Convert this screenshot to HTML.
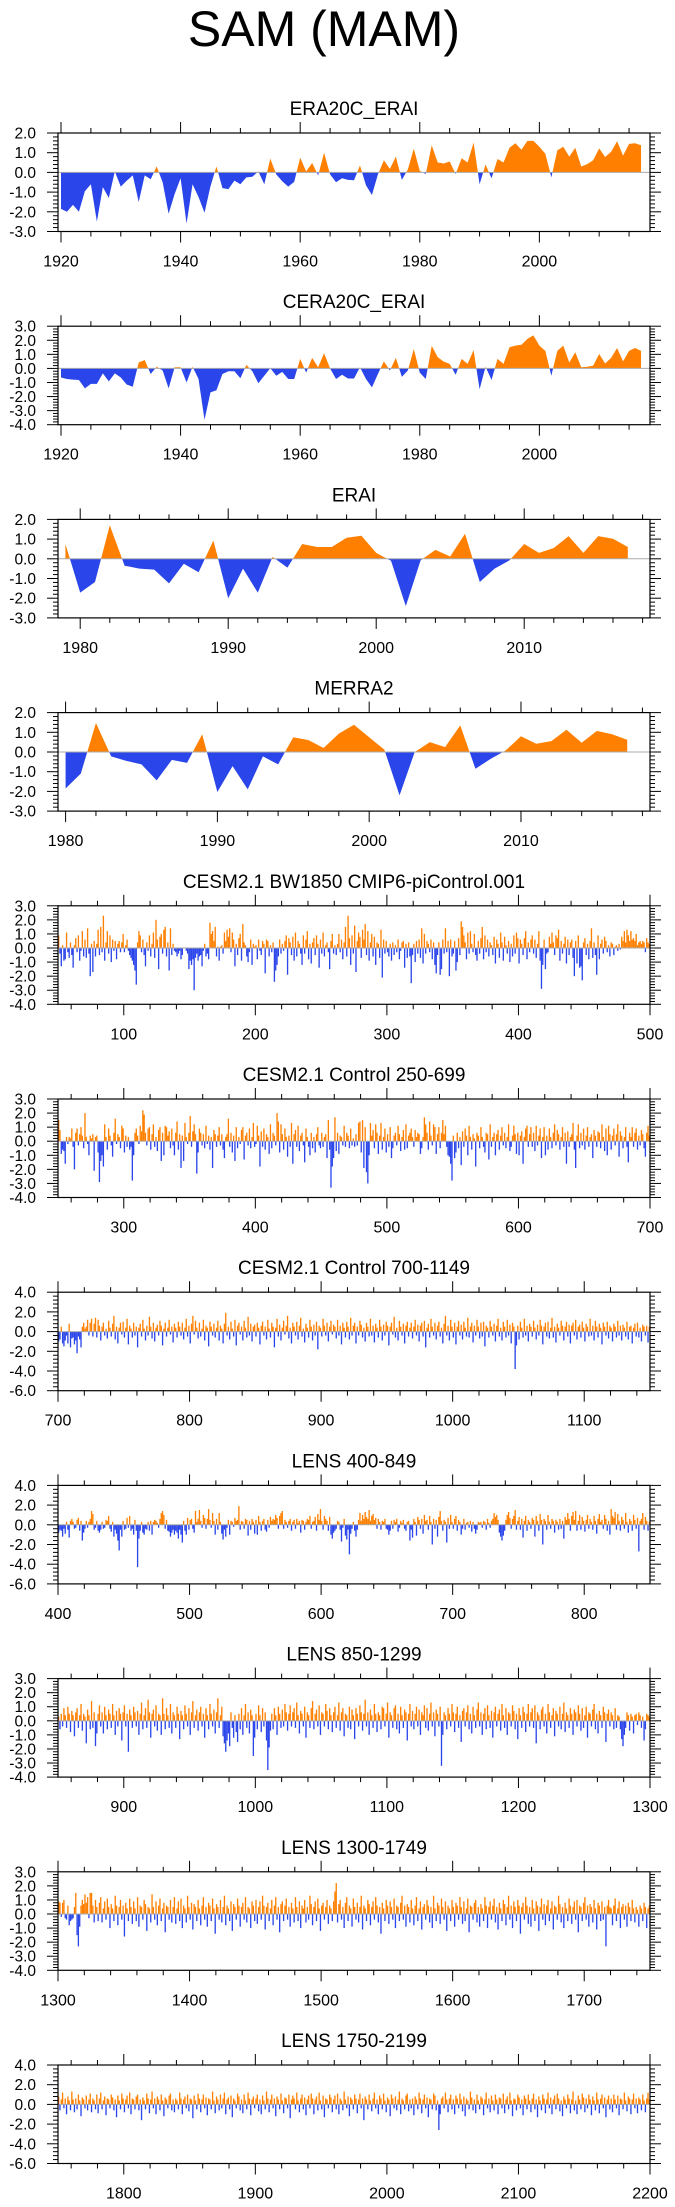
<!DOCTYPE html>
<html><head><meta charset="utf-8"><title>SAM (MAM)</title>
<style>
html,body{margin:0;padding:0;background:#fff;}
svg{display:block;}
text{font-family:"Liberation Sans",Arial,sans-serif;fill:#000;}
</style></head>
<body>
<svg id="chart" width="675" height="2207" viewBox="0 0 675 2207" xmlns="http://www.w3.org/2000/svg">
<rect x="0" y="0" width="675" height="2207" fill="#fff"/>
<text x="324" y="46" font-size="50" text-anchor="middle">SAM (MAM)</text>
</svg>
<script>
// ---- data ----
const p1Start = 1920;
const p1Values = [-1.85,-2.0,-1.65,-2.0,-0.95,-0.6,-2.5,-0.75,-1.3,0.05,-0.72,-0.42,-0.15,-1.5,-0.15,-0.35,0.3,-0.5,-2.1,-1.1,-0.3,-2.6,-0.6,-1.25,-2.05,-0.7,0.3,-0.8,-0.85,-0.42,-0.6,-0.25,-0.22,0.05,-0.6,0.7,-0.1,-0.45,-0.72,-0.48,0.75,0.05,0.48,-0.15,1.0,-0.1,-0.5,-0.3,-0.38,-0.4,0.35,-0.65,-1.15,-0.1,0.62,0.18,0.8,-0.38,0.15,1.2,0.08,-0.08,1.38,0.5,0.45,0.55,-0.08,0.72,0.5,1.52,-0.6,0.4,-0.3,0.68,0.5,1.25,1.48,1.15,1.6,1.6,1.3,0.95,-0.25,1.12,1.3,0.8,1.25,0.3,0.42,0.62,1.22,0.78,1.05,1.58,0.85,1.45,1.48,1.38];
const p2Start = 1920;
const p2Values = [-0.65,-0.75,-0.8,-0.82,-1.42,-1.1,-1.1,-0.35,-0.92,-0.35,-0.65,-1.15,-1.3,0.42,0.6,-0.4,0.12,-0.15,-1.42,0.08,0.08,-1.0,0.12,-0.75,-3.65,-1.7,-1.55,-0.4,-0.2,-0.2,-0.7,0.25,-0.2,-1.05,-0.52,0.02,-0.52,-0.25,-0.75,-0.75,0.68,-0.3,0.75,0.08,1.08,0.0,-0.75,-0.45,-0.72,-0.72,0.08,-0.75,-1.35,-0.4,0.5,-0.15,0.75,-0.6,-0.15,1.38,-0.3,-0.75,1.6,0.8,0.48,0.32,-0.45,0.68,0.32,1.3,-1.48,0.12,-0.82,0.68,0.32,1.5,1.62,1.68,2.1,2.35,1.62,1.25,-0.52,1.25,1.62,0.42,1.15,0.08,0.12,0.2,1.02,0.35,0.75,1.45,0.5,1.25,1.45,1.25];
const p3Start = 1979;
const p3Values = [0.75,-1.72,-1.18,1.7,-0.35,-0.5,-0.55,-1.25,-0.25,-0.68,0.93,-2.0,-0.5,-1.72,0.1,-0.45,0.75,0.6,0.6,1.07,1.17,0.3,-0.1,-2.4,-0.08,0.45,0.12,1.27,-1.18,-0.5,-0.08,0.75,0.3,0.55,1.15,0.3,1.15,1.02,0.6];
const p4Start = 1980;
const p4Values = [-1.85,-1.1,1.47,-0.22,-0.45,-0.63,-1.44,-0.4,-0.55,0.9,-2.03,-0.72,-1.9,-0.22,-0.63,0.75,0.6,0.2,0.93,1.38,0.75,0.12,-2.2,0.0,0.5,0.25,1.35,-0.85,-0.35,0.08,0.8,0.42,0.55,1.13,0.47,1.07,0.9,0.62];
const p5Start = 50;
const p5Values = [0.9,-0.4,-1.3,0.2,-0.9,-0.8,1.1,-0.3,-0.7,0.4,-0.5,-1.4,0.2,0.7,-0.3,0.9,-0.9,-0.2,1.2,-0.6,0.6,-0.7,1.4,-0.4,-2.0,0.3,-1.7,0.5,-0.6,0.3,
1.3,-0.5,1.5,-0.3,2.3,-0.9,0.4,1.2,-0.4,0.9,-1.0,0.6,-0.2,0.5,-0.8,0.3,0.5,-0.3,0.4,1.0,-0.3,0.2,0.6,-0.2,-0.5,-0.7,-0.9,-1.2,-1.6,-2.6,
0.4,1.2,0.9,-0.3,0.6,-0.5,-1.3,0.4,-0.2,0.9,-0.6,0.3,1.1,-0.7,2.0,0.6,-1.5,0.8,1.0,-0.4,1.3,1.5,-0.6,0.4,-1.6,1.4,-0.5,0.3,-0.2,-0.3,
-0.6,-0.4,-0.2,-0.8,-0.5,0.0,0.0,-0.2,-0.4,-1.5,-0.9,-1.2,-0.8,-3.0,-0.7,-0.4,-0.9,-0.6,-0.5,-1.3,-0.2,0.3,-0.6,-0.4,-0.8,1.8,1.0,1.2,0.5,1.5,
-0.6,0.1,-0.9,0.1,0.2,-0.4,1.1,0.5,1.3,0.8,1.4,-0.3,1.1,0.6,-1.3,0.3,-0.5,0.7,1.0,-0.9,1.7,0.4,0.2,-0.6,-1.0,-0.3,0.6,-1.2,0.3,0.1,
0.2,-0.8,0.6,-0.2,-0.5,0.5,0.3,-1.8,0.6,0.5,-0.6,0.2,-0.3,0.4,-2.4,-1.6,-1.2,-0.6,0.6,-0.4,0.3,-0.2,0.5,0.9,-1.9,0.7,0.4,-0.5,0.8,-0.9,
1.1,-0.6,0.5,0.3,-0.4,-1.2,0.9,-0.4,0.6,1.2,-0.8,0.3,-1.1,0.4,0.7,-0.5,0.9,0.3,-1.4,0.6,-0.4,1.1,-0.6,0.2,0.4,-0.3,-1.5,0.5,1.0,-0.4,
0.2,-0.5,0.3,1.0,-0.3,0.6,-0.8,0.4,1.5,-0.6,2.3,0.7,-1.2,0.9,-0.4,1.6,-1.7,0.5,1.1,0.8,-0.7,1.3,0.6,1.7,-0.5,1.2,-0.9,0.4,1.0,-0.6,
0.8,-1.2,0.4,0.3,-0.7,1.3,-2.1,0.6,-0.4,0.5,-0.3,-0.6,0.3,-0.9,0.4,-0.5,0.2,-0.3,0.6,-0.8,-0.2,0.4,0.5,-1.4,0.3,-0.7,0.4,-0.6,-2.5,-0.5,
0.3,-1.0,0.5,-0.4,0.6,-0.7,1.4,-1.1,1.0,-0.4,0.5,0.3,-0.3,0.6,-0.8,0.4,-1.2,-1.8,-0.5,0.4,-1.9,-1.5,0.6,-0.4,1.4,-0.3,0.5,-2.0,0.6,-0.6,
-0.4,0.5,-1.6,-1.0,0.7,-0.5,1.9,1.5,0.9,0.4,-0.8,1.1,-0.4,1.2,0.3,-0.3,1.0,-0.5,-0.9,0.5,-0.4,0.7,1.5,-0.8,0.9,-0.3,0.6,-0.6,0.4,0.2,
-0.5,0.8,-1.1,0.6,0.3,-0.7,1.1,0.4,-0.9,0.8,0.2,-0.4,0.5,-1.0,0.3,-0.6,0.9,-0.4,1.1,0.7,-1.1,0.6,0.3,-0.5,0.7,1.2,-0.8,0.4,-0.3,0.6,
0.9,-0.4,0.6,-0.7,0.3,1.2,-0.9,-2.9,-1.2,0.6,-1.5,-0.4,-0.3,0.8,0.3,1.1,0.4,-0.5,0.9,0.7,1.3,-0.9,0.5,-0.4,0.3,0.8,-1.1,0.6,-0.5,0.4,
0.6,-0.7,-2.0,0.5,-1.1,0.9,-1.4,-1.3,-2.3,0.4,0.7,-0.5,0.3,-0.8,0.5,1.4,-0.7,0.4,-0.5,-1.9,0.9,-0.8,0.3,0.6,-0.4,0.8,0.5,-0.3,0.2,-0.6,
0.4,0.3,-0.5,0.1,0.2,-0.2,0.3,-0.1,0.8,0.5,1.2,0.4,1.3,0.9,0.5,1.2,0.6,0.7,0.5,1.0,0.2,0.4,0.5,0.3,0.5,0.4,-0.3,0.7,0.4,0.3];
const p6Start = 250;
const p6Values = [1.5,0.8,-0.9,-0.6,-0.7,-1.6,0.3,-0.2,0.3,0.2,0.9,-0.4,-2.0,0.6,0.9,-0.3,0.5,1.0,0.4,-0.5,2.0,0.3,-0.2,-1.0,0.4,0.2,0.5,-2.1,0.3,0.4,
-0.8,-2.9,-1.4,-1.0,-1.8,1.2,0.3,-0.6,0.9,0.4,-0.3,-1.1,0.6,1.6,-0.2,0.5,0.3,-0.5,1.1,0.9,-0.8,0.4,-0.4,0.3,-0.6,-0.4,-2.8,-1.0,0.6,0.9,
0.4,-0.2,1.1,0.7,2.2,1.9,0.6,-0.3,0.9,1.0,-0.6,0.5,1.2,-0.4,0.3,-0.7,0.8,1.0,-1.4,0.6,-1.0,1.1,1.0,0.4,0.7,-0.5,0.9,-0.3,-1.0,0.6,
1.4,-0.6,0.5,-1.9,0.4,-1.4,1.3,0.3,-0.2,0.6,1.8,-0.4,0.7,1.2,0.5,-2.3,-0.8,0.9,0.6,-0.3,0.5,-0.5,1.1,-0.2,0.4,-0.6,0.3,-1.9,0.8,0.5,
-0.4,0.4,1.0,-0.3,0.5,-0.6,-1.2,0.3,0.5,1.6,-0.4,0.6,-0.8,0.4,-1.4,1.0,-0.5,0.3,-0.2,0.8,1.0,-1.3,0.4,0.6,-0.3,0.9,-0.5,0.3,1.3,-0.4,
-0.2,1.1,0.4,-1.8,0.7,-0.4,0.9,-0.6,0.5,0.3,-0.9,1.2,-0.5,0.6,0.4,-0.3,2.0,1.4,-0.8,1.2,0.5,-0.6,0.9,0.3,-1.1,0.4,-0.4,1.3,-1.6,0.5,
0.8,-0.4,1.1,-0.7,0.4,0.6,-0.3,-1.5,0.9,0.3,-0.4,-1.0,0.6,-0.5,0.3,-0.8,0.5,1.0,-0.3,-0.5,0.6,-0.4,0.3,0.5,-1.2,1.5,-0.6,-3.3,-1.8,-1.2,
1.7,-0.7,0.6,-0.9,0.4,0.3,-0.3,1.1,-0.4,0.6,0.4,-0.5,0.9,-0.3,0.2,-0.4,0.5,-0.3,1.3,1.4,-0.8,1.5,-1.9,1.0,-2.2,-3.0,-1.0,1.3,0.4,0.8,
-0.5,1.2,0.6,-0.9,0.4,1.3,-0.6,0.3,0.9,-0.8,0.5,-0.4,1.0,-1.2,-0.5,0.4,0.6,-0.3,1.1,0.5,-0.7,0.3,0.8,-0.6,1.2,-0.5,0.4,0.6,0.9,0.3,
-0.4,0.8,0.3,0.6,0.5,-0.9,-0.5,0.3,1.7,1.2,0.6,-0.6,1.4,0.4,-0.3,1.2,1.0,-0.9,0.5,1.0,-0.5,0.6,1.5,0.5,1.1,-0.4,-1.0,-1.1,-1.6,-2.8,
0.4,-1.2,-0.8,0.6,-0.5,0.3,-1.7,0.7,-0.4,0.9,0.4,-1.0,1.1,0.3,-0.6,0.5,0.2,-1.8,0.6,0.4,-0.5,1.0,0.3,-0.4,-0.8,0.6,0.5,-1.3,1.2,-0.4,
0.3,0.6,-1.0,0.5,0.8,-0.6,0.4,1.0,-0.3,0.6,-0.5,0.3,1.2,-0.7,-0.4,0.4,1.1,0.5,-0.9,0.6,-1.0,0.4,0.7,-1.6,0.3,0.9,1.1,-0.4,0.5,1.0,
-0.4,0.6,-0.7,1.1,-0.3,0.4,0.9,-1.2,0.3,1.0,-1.0,0.4,-0.6,0.9,0.3,-0.5,0.6,1.2,-0.3,0.8,0.5,-0.6,0.3,1.0,-0.4,0.6,-1.6,0.7,-0.4,0.3,
0.5,1.3,-0.6,-1.9,0.4,1.2,-0.5,0.6,-0.3,0.9,-0.6,0.4,1.0,-0.4,0.3,0.5,-1.2,0.8,0.4,-0.4,0.7,0.6,-0.5,1.2,0.3,-0.7,0.9,-1.0,1.1,0.5,
-0.6,0.4,0.9,-0.3,0.5,1.2,-1.1,0.7,0.4,-0.5,0.3,1.0,-0.4,-1.5,0.6,0.3,1.0,-0.4,0.6,0.9,-0.6,0.4,-0.3,0.8,0.5,-0.5,-1.1,0.6,1.1,0.4];
const p7Start = 700;
const p7Values = [-1.0,-0.8,0.5,-1.2,-1.5,-0.9,-0.4,-1.2,0.8,-1.6,-0.7,-0.6,-1.3,-0.9,-2.2,-0.5,-0.8,-1.6,0.5,0.9,0.3,0.5,1.2,-0.4,0.9,1.3,-0.5,0.8,1.4,-0.6,
1.2,0.6,-0.9,0.5,0.9,-0.4,0.3,-0.7,1.1,0.4,-0.5,0.8,1.6,-0.8,0.5,-1.2,0.4,0.9,-0.3,1.0,-0.6,0.4,1.3,-1.3,0.6,0.3,-0.6,0.9,-0.4,0.5,
-1.6,0.4,0.8,-0.5,1.2,0.3,-0.9,0.6,-0.4,1.5,0.5,-0.7,0.9,-1.0,0.4,0.7,-0.4,1.1,0.6,-1.4,0.3,0.9,-0.5,0.4,1.2,-0.3,0.5,-1.1,0.8,0.4,
-0.6,1.0,0.5,-0.4,0.9,-0.8,0.4,1.3,-0.5,0.6,-1.2,0.8,1.6,-0.3,1.1,0.4,-0.7,0.9,-0.5,0.3,1.2,-0.9,0.6,0.4,-1.5,1.0,0.5,-0.4,0.8,-0.6,
0.4,1.1,-0.9,0.6,0.3,-1.2,0.8,1.9,-0.4,0.5,-0.8,1.0,0.3,-0.5,1.2,-1.4,0.6,0.9,-0.3,0.5,-0.9,1.1,0.4,-0.6,1.5,-0.4,0.8,-1.0,0.5,0.7,
-0.5,0.9,0.4,-1.3,0.6,1.0,-0.4,0.5,-0.8,1.2,0.3,-0.6,0.9,0.5,-1.6,0.4,1.3,-0.5,0.7,-0.9,0.4,1.1,-0.3,0.6,1.6,-0.7,0.4,-1.2,0.9,0.5,
-0.4,1.0,-0.8,0.6,1.4,-0.5,0.3,-1.1,0.8,0.4,-0.6,1.2,0.5,-0.9,0.7,-0.4,1.0,-1.8,0.6,0.4,-0.5,1.3,0.6,-0.4,0.9,-1.0,0.5,1.1,-0.3,0.7,
0.5,-0.7,1.2,-0.4,0.6,-1.3,0.9,0.4,-0.6,1.0,0.5,-0.8,1.4,-0.4,0.6,0.9,-1.2,0.5,-0.4,1.1,0.7,-0.6,0.4,-1.0,0.9,0.5,-0.5,1.3,-0.4,0.6,
-1.1,0.8,0.4,-0.6,1.2,0.5,-0.9,0.7,-0.4,1.0,0.6,-1.4,0.5,0.9,-0.3,1.5,-0.6,0.4,-0.9,1.1,0.5,-0.4,0.8,-1.2,0.6,1.0,-0.5,0.4,0.9,-0.7,
0.5,1.2,-0.4,0.7,-1.0,0.6,0.9,-0.5,1.1,-1.6,0.4,0.8,-0.6,1.3,0.5,-0.4,0.9,-0.8,0.6,1.0,-0.5,0.4,-1.2,0.8,1.6,-0.4,0.6,-0.9,1.2,0.5,
-0.6,0.9,-1.3,0.5,1.1,-0.4,0.7,-0.8,1.0,0.4,-0.5,1.4,-0.6,0.5,0.9,-1.1,0.6,-0.4,1.2,0.5,-0.7,0.9,-0.5,1.0,-1.5,0.6,0.4,-0.6,1.1,0.5,
-0.4,0.8,-1.0,0.6,1.3,-0.5,0.4,-0.9,1.0,0.5,-0.6,1.2,-0.4,0.7,-1.2,0.9,0.5,-3.8,-1.4,0.6,-0.8,1.0,0.4,-0.6,1.3,-0.4,0.6,-1.0,0.8,0.5,
-0.5,1.1,0.4,-0.8,0.7,-0.4,1.2,0.6,-1.3,0.5,0.9,-0.5,1.0,-0.7,0.4,1.4,-0.6,0.5,-1.1,0.8,0.4,-0.4,1.1,0.6,-0.9,0.5,1.0,-0.5,0.7,-1.2,
0.6,0.9,-0.4,1.2,-0.8,0.5,0.7,-0.6,1.0,0.4,-1.0,0.8,0.5,-0.5,1.3,-0.4,0.6,-0.9,1.1,0.5,-0.6,0.8,0.4,-1.3,0.9,0.5,-0.4,1.0,-0.7,0.6,
0.4,-1.0,0.8,0.5,-0.6,1.1,-0.4,0.6,-0.9,0.7,0.4,-0.5,1.0,-0.8,0.5,0.6,-1.2,0.4,0.8,-0.5,0.9,-0.6,0.4,-1.0,0.7,0.5,-0.4,0.6,-1.1,0.5];
const p8Start = 400;
const p8Values = [-0.8,-0.5,-0.6,-1.2,-0.4,-0.9,0.3,-0.5,-1.3,0.4,0.6,0.3,-0.4,-0.3,0.5,0.7,-0.6,0.4,-1.6,-0.8,-0.4,0.4,-0.3,0.3,0.6,1.4,1.1,-0.5,-0.3,0.4,
-0.6,-0.8,-0.5,0.3,-0.4,-0.3,0.5,0.4,0.9,-0.4,-0.7,0.3,-1.2,-0.5,-0.9,-1.6,-2.6,-0.5,-1.2,0.4,-0.5,-0.4,0.7,-0.3,0.9,-0.6,-0.4,-1.0,0.5,-0.6,
-4.3,-1.4,-0.6,0.3,-0.8,-1.0,-0.4,-0.5,0.3,-0.6,0.4,-1.0,0.3,0.5,0.4,0.2,-0.3,0.6,1.2,1.4,1.0,-0.4,0.5,-0.6,-0.7,-1.2,-0.8,-0.5,-1.0,-0.6,
-0.8,-1.4,-0.5,-1.0,-1.8,0.4,-0.6,-1.0,0.7,-0.5,0.5,0.6,-0.4,-0.8,1.4,0.3,0.6,1.5,0.4,-0.3,1.0,0.7,-0.4,0.6,1.6,0.5,-0.3,1.2,0.4,-1.0,
0.6,-0.5,1.2,0.3,-0.9,-1.5,-0.5,-1.2,-0.3,0.5,-1.0,0.4,0.3,-0.2,0.7,0.4,0.5,1.9,-0.5,0.4,0.3,-0.4,0.6,0.5,-1.1,0.4,-0.5,0.6,0.3,-0.9,
0.5,-1.0,0.9,0.3,-0.6,0.4,0.6,-0.5,-0.7,0.5,-0.3,0.8,0.4,0.6,0.5,1.0,0.7,-0.4,0.9,1.2,1.4,-0.4,0.5,0.3,-0.3,0.4,0.6,-0.6,0.3,0.5,
-0.4,0.6,0.2,0.4,-0.8,0.5,0.4,-0.5,0.3,0.6,0.5,0.9,-0.4,0.3,0.4,0.8,-0.6,1.1,0.5,1.6,0.4,-0.5,0.9,0.6,0.4,-0.6,0.8,-1.0,-1.4,-0.8,
-0.6,-0.4,0.4,0.3,-0.5,-1.7,-0.3,0.6,-1.1,-1.5,-0.5,-3.0,-0.9,-0.4,0.3,-0.6,-1.2,-0.5,0.5,1.2,0.4,1.0,0.6,1.3,0.8,0.6,1.5,0.4,0.9,1.1,
0.5,0.7,-0.4,0.6,0.3,-0.5,0.4,0.3,0.6,-0.4,-0.5,-1.0,-0.6,0.4,-0.4,0.5,0.3,0.6,-0.7,-0.3,0.4,0.2,0.5,-0.4,-0.6,0.3,0.4,-1.6,-0.5,-1.3,
0.6,0.3,-1.1,0.8,0.5,-0.4,0.6,-0.9,1.0,0.4,0.5,-0.5,0.9,0.3,-2.0,0.6,-0.4,0.5,-1.2,0.8,1.4,0.4,-0.6,0.5,0.3,-1.8,0.7,-0.4,1.0,0.3,
-0.4,0.6,0.9,-0.6,0.5,0.3,-1.0,-0.4,0.6,-0.5,0.2,0.3,-0.3,0.4,-0.7,0.3,-0.4,-0.9,-0.5,0.3,0.2,0.3,-0.3,0.4,0.3,-0.5,0.6,0.2,-0.3,0.4,
0.6,1.2,0.8,1.0,0.5,-0.8,-1.2,-1.6,-1.1,-0.6,0.5,1.0,1.3,0.7,-0.4,0.6,0.9,1.5,-0.5,0.4,0.8,-0.5,0.6,-1.3,0.4,0.9,-0.6,0.5,0.3,-0.4,
0.7,0.5,-1.2,0.9,0.4,-0.6,1.1,0.5,-2.0,0.6,0.4,-0.5,1.0,0.3,-0.4,0.6,0.4,-0.8,0.5,0.3,-0.5,0.6,-0.4,0.4,-1.4,0.8,0.5,1.2,0.6,-0.6,
0.9,1.3,0.5,1.4,-0.6,0.4,1.0,-0.5,0.8,0.4,-0.7,0.5,1.0,-0.4,0.6,0.3,-0.5,0.9,0.4,-0.9,0.6,1.1,0.3,0.5,-0.4,1.0,0.6,-0.6,0.4,-1.0,
1.6,0.9,0.7,1.3,-0.5,1.1,0.4,-0.6,0.8,0.5,-0.4,1.2,0.3,-0.8,0.6,0.4,-0.6,1.0,0.5,-0.4,0.7,-2.7,0.4,0.6,1.2,-0.5,0.8,0.4,-0.6,0.3];
const p9Start = 850;
const p9Values = [0.3,-0.6,0.5,-0.4,0.9,0.4,-0.5,1.0,0.5,-0.8,0.7,0.4,-1.1,0.6,0.9,-0.5,0.4,1.2,-0.7,0.5,0.3,-1.6,0.8,0.4,-0.6,1.4,-0.5,0.6,-1.8,-0.9,
0.5,1.1,-0.4,0.6,-0.9,1.0,0.4,-0.6,0.8,0.5,-0.5,1.2,0.4,-1.0,0.7,-0.4,0.9,0.5,-1.4,0.6,1.1,-0.4,0.5,-2.2,0.8,0.4,-0.5,1.0,0.6,-0.4,
0.7,-1.0,0.5,1.3,-0.6,0.4,0.9,-0.5,1.5,0.6,-1.2,0.5,0.8,-0.4,1.1,-0.7,0.5,0.4,-1.0,1.6,0.5,-0.6,0.9,0.4,-0.5,1.2,-0.9,0.6,0.4,-0.5,
1.0,0.5,-1.3,0.7,0.4,-0.6,1.1,0.5,-0.4,0.9,-1.0,0.6,1.4,-0.5,0.4,0.8,-0.7,0.6,1.0,-0.4,0.5,-1.2,0.9,0.4,-0.6,1.2,0.5,-0.4,0.8,-0.9,
0.6,1.6,-0.5,0.4,1.0,-1.1,-1.6,-2.2,-1.4,-0.9,-1.8,0.6,-0.5,-1.2,0.4,-0.8,-1.5,0.5,-0.6,0.9,-1.0,0.4,1.2,-0.5,0.6,-0.9,0.8,0.4,-2.5,-1.2,
0.5,-0.6,1.1,0.4,-0.8,0.9,-0.4,0.6,-1.4,-3.5,-1.9,-0.7,0.5,-0.6,0.9,0.4,-1.0,1.0,0.5,-0.5,0.8,-0.4,1.2,0.6,-0.7,0.5,1.1,-0.4,0.6,0.9,
-0.5,1.3,0.4,-0.9,0.7,0.5,-0.4,1.0,-1.2,0.6,0.4,-0.5,0.9,1.4,-0.6,0.5,0.8,-0.4,1.1,-1.0,0.6,0.5,-0.4,1.2,0.7,-0.6,0.9,0.4,-0.8,0.6,
1.0,-0.5,0.4,1.3,-0.7,0.6,0.9,-1.1,0.5,0.4,-0.5,1.0,-0.6,0.8,0.4,-1.3,0.9,0.5,-0.4,1.1,0.6,-0.7,0.5,1.5,-0.4,0.6,-1.0,0.8,0.4,-0.5,
1.2,0.5,-0.8,0.6,0.4,-0.6,1.0,0.9,-0.4,0.5,1.3,-1.2,0.6,0.4,-0.5,0.9,1.1,-0.6,0.5,-0.9,1.0,0.4,-0.5,0.8,0.6,-1.4,0.5,1.2,-0.4,0.7,
-0.6,0.5,1.0,-0.4,0.8,-1.0,0.6,0.4,1.1,-0.5,0.9,-0.7,0.5,1.3,-0.4,0.6,-1.1,0.8,0.5,-0.4,1.0,-3.2,-1.0,0.6,0.4,-0.6,0.9,0.5,-0.4,1.2,
0.6,-0.8,0.5,1.0,-0.5,0.4,-1.5,0.7,0.9,-0.4,0.6,1.1,-0.6,0.5,-0.9,1.0,0.4,-0.5,0.8,1.3,-0.4,0.6,-1.0,0.5,0.9,-0.6,1.1,0.4,-0.5,0.7,
-1.2,0.6,1.0,-0.4,0.5,0.8,-0.7,1.2,0.4,-0.5,0.9,-1.0,0.6,0.5,-0.4,1.1,0.7,-0.6,0.5,-1.3,0.9,0.4,-0.5,1.0,0.6,-0.8,0.5,1.2,-0.4,0.6,
0.9,-0.5,1.1,-1.6,0.6,0.4,-0.6,0.8,1.0,-0.4,0.5,-0.9,1.2,0.6,-0.5,0.4,0.9,-1.1,0.7,0.5,-0.4,1.0,-0.6,0.5,1.3,-0.8,0.6,0.4,-0.5,0.9,
0.5,-1.0,0.8,0.6,-0.4,1.1,0.5,-0.7,0.9,-0.5,0.4,1.0,-1.2,0.6,0.5,-0.4,0.8,1.2,-0.6,0.5,-0.9,0.7,0.4,-0.5,1.0,0.6,-1.5,0.5,0.8,-0.4,
0.6,0.4,-0.6,0.9,-0.5,0.4,0.3,-0.6,-1.3,-1.8,-1.0,-0.5,0.6,0.4,-0.7,0.5,0.3,-0.9,0.4,0.5,-0.3,0.6,0.4,-0.5,0.3,-1.4,-0.6,0.5,0.4,0.3];
const p10Start = 1300;
const p10Values = [0.9,0.8,-0.2,0.8,1.0,-0.3,-0.4,0.6,-0.8,-0.5,-0.4,-0.3,0.5,1.5,-1.5,-2.3,-0.9,0.6,1.0,0.7,1.4,0.8,1.2,-0.3,1.5,1.5,0.6,-0.6,1.0,0.5,
-0.5,0.8,1.2,-0.6,0.4,0.9,-0.4,1.1,0.5,-1.0,0.7,0.4,-0.5,1.3,0.6,-0.8,0.5,1.0,-0.4,0.6,-1.6,0.8,0.4,-0.5,1.1,0.5,-0.7,0.9,0.4,-0.5,
1.2,-0.9,0.6,0.5,-0.4,1.0,0.7,-1.2,0.5,0.4,-0.6,1.4,0.5,-0.4,0.9,-0.8,0.6,1.1,-0.5,0.4,0.8,-1.3,0.6,0.5,-0.4,1.0,-0.6,0.5,1.2,-0.7,
0.4,0.9,-0.5,1.1,-1.0,0.6,0.4,-0.6,1.3,0.5,-0.4,0.8,-1.1,0.7,0.5,-0.5,1.0,0.4,-0.8,0.6,1.2,-0.4,0.5,-0.9,0.8,0.6,-0.5,1.1,0.4,-1.4,
0.7,0.5,-0.4,1.0,-0.6,0.5,1.3,-0.8,0.6,0.4,-0.5,0.9,-1.2,0.7,0.5,-0.4,1.1,0.6,-0.9,0.5,0.8,-0.4,1.2,-0.6,0.5,0.4,-1.0,0.9,0.6,-0.5,
1.0,-0.7,0.5,0.9,-0.4,1.3,0.6,-1.1,0.5,0.8,-0.5,0.4,1.0,-0.8,0.6,1.2,-0.4,0.5,-1.3,0.7,0.9,-0.5,0.6,1.1,-0.4,0.5,-0.9,0.8,0.4,-0.6,
1.2,0.5,-0.5,0.9,-1.0,0.6,0.4,1.0,-0.6,0.5,-0.4,1.3,0.7,-0.8,0.5,0.9,-0.5,1.1,0.4,-1.2,0.6,0.8,-0.4,0.5,1.0,-0.7,0.6,0.4,-0.5,0.9,
1.6,2.2,-0.6,0.7,1.0,-0.4,0.5,-1.0,0.8,1.2,-0.5,0.6,0.4,-0.9,1.1,0.5,-0.4,0.8,-0.6,0.5,1.3,-1.1,0.6,0.4,-0.5,1.0,0.7,-0.8,0.5,0.9,
-0.4,1.2,0.6,-0.6,0.5,-1.4,0.8,0.4,-0.5,1.0,0.6,-0.7,0.9,0.5,-0.4,1.1,-1.0,0.6,0.5,-0.5,0.8,1.3,-0.4,0.6,-0.9,0.7,0.5,-0.6,1.0,0.4,
-0.8,0.6,1.2,-0.5,0.4,0.9,-1.1,0.5,0.7,-0.4,1.0,0.6,-0.6,0.5,-1.0,1.3,0.4,-0.5,0.8,0.6,-0.7,1.1,0.5,-0.4,0.9,-1.2,0.6,0.4,-0.5,1.0,
0.5,-0.9,0.8,0.6,-0.4,1.2,0.5,-0.7,0.9,-0.5,0.4,1.1,-1.3,0.6,0.5,-0.4,0.8,1.0,-0.6,0.5,-0.9,0.7,0.4,-0.5,1.2,0.6,-1.0,0.5,0.9,-0.4,
0.6,1.1,-0.6,0.5,-1.1,0.8,0.4,-0.5,1.0,0.7,-0.8,0.5,1.3,-0.4,0.6,-1.0,0.9,0.5,-0.5,1.0,0.6,-1.4,0.5,0.8,-0.4,1.2,0.6,-0.7,0.5,-0.9,
1.0,0.4,-0.5,0.9,0.6,-1.2,0.5,1.1,-0.4,0.7,-0.8,0.6,1.0,-0.5,0.4,0.9,-1.1,0.6,0.5,-0.4,1.3,0.7,-0.6,0.5,-1.0,0.8,0.4,-0.5,1.1,0.6,
-0.7,0.5,0.9,-0.4,1.0,-1.3,0.6,0.5,-0.5,0.8,1.2,-0.4,0.6,-0.9,0.7,0.5,-0.6,1.0,0.4,-1.1,0.8,0.6,-0.5,0.9,-0.4,0.5,-2.3,0.6,1.0,0.5,
0.4,-0.8,0.6,1.1,-0.5,0.4,0.9,-1.0,0.5,0.7,-0.4,0.6,-0.9,0.8,0.5,-0.5,1.0,0.4,-0.6,0.5,0.3,-0.9,0.6,0.4,-0.5,0.8,0.5,-1.0,0.4,0.6];
const p11Start = 1750;
const p11Values = [0.8,-0.6,0.5,1.2,-0.4,0.6,-1.0,0.8,0.4,-0.6,1.3,0.5,-0.8,0.6,-0.5,1.0,0.4,-1.2,0.7,0.5,-0.4,0.9,-0.6,0.5,1.1,-0.8,0.6,0.4,-0.5,1.0,
-0.9,0.6,1.2,-0.5,0.4,0.8,-1.1,0.6,0.5,-0.4,1.0,0.7,-0.6,0.5,-1.3,0.9,0.4,-0.5,1.1,0.6,-0.8,0.5,0.9,-0.4,1.2,-1.0,0.6,0.5,-0.5,0.8,
1.0,-0.6,0.5,-1.6,0.7,0.4,-0.5,1.1,0.6,-0.9,0.5,1.3,-0.4,0.6,-1.0,0.8,0.5,-0.6,1.0,0.4,-1.2,0.7,0.5,-0.4,0.9,1.1,-0.6,0.5,-0.8,0.6,
0.4,-0.5,1.2,0.6,-1.0,0.5,0.8,-0.4,1.0,-0.7,0.6,0.5,-1.4,0.9,0.4,-0.5,1.1,0.6,-0.8,0.5,1.0,-0.4,0.7,-1.1,0.6,0.5,-0.5,1.3,0.4,-0.9,
0.8,0.5,-0.6,1.0,-0.4,0.6,1.2,-1.0,0.5,0.7,-0.5,0.9,-1.3,0.6,0.4,-0.4,1.1,0.8,-0.6,0.5,-0.9,1.0,0.4,-0.5,1.2,0.6,-1.1,0.5,0.8,-0.4,
0.6,1.0,-0.7,0.5,-1.0,0.9,0.4,-0.5,1.3,0.6,-0.8,0.5,1.0,-0.4,0.6,-1.2,0.8,0.5,-0.5,1.1,0.4,-0.9,0.7,0.6,-0.4,1.0,-1.4,0.5,0.9,0.6,
-0.5,1.2,0.4,-0.8,0.6,1.0,-0.5,0.7,-1.1,0.5,0.9,-0.4,1.1,0.6,-1.0,0.5,0.8,-0.6,1.2,0.4,-0.5,0.9,-1.3,0.6,0.5,-0.4,1.0,0.7,-0.8,0.5,
0.9,-0.5,1.1,-1.0,0.6,0.4,-0.6,1.3,0.5,-0.4,0.8,-1.2,0.7,0.5,-0.5,1.0,0.6,-0.9,0.5,1.1,-0.4,0.6,-1.6,0.8,0.5,-0.5,1.0,0.4,-0.7,0.6,
1.2,-0.4,0.5,-1.0,0.9,0.6,-0.5,1.1,0.4,-0.8,0.7,0.5,-1.2,1.0,0.6,-0.4,0.8,-0.6,0.5,1.3,-1.0,0.6,0.4,-0.5,0.9,1.1,-0.7,0.5,-0.4,0.6,
-1.1,0.8,0.5,-0.5,1.2,0.6,-0.9,0.5,1.0,-0.4,0.7,-1.3,0.6,0.5,-0.5,1.1,0.9,-0.6,0.4,-2.6,-1.0,0.6,0.8,-0.4,1.2,0.5,-0.8,0.6,1.0,-0.5,
0.5,-1.0,0.9,0.6,-0.4,1.1,0.5,-0.7,0.8,-1.2,0.6,0.4,-0.5,1.3,0.7,-0.6,0.5,-0.9,1.0,0.4,-0.5,0.8,0.6,-1.1,0.5,1.2,-0.4,0.6,-0.8,0.9,
0.4,-0.6,1.0,0.5,-1.0,0.7,0.6,-0.4,1.1,-0.9,0.5,0.8,-0.5,1.2,0.4,-1.2,0.6,0.5,-0.6,1.0,0.7,-0.4,0.5,-1.1,0.9,0.6,-0.5,1.0,0.4,-0.8,
0.6,1.1,-0.5,0.5,-1.3,0.8,0.4,-0.6,1.0,0.6,-0.9,0.5,1.2,-0.4,0.7,-1.0,0.5,0.9,-0.5,1.1,0.6,-0.7,0.4,-1.2,0.8,0.5,-0.4,1.0,0.6,-0.9,
0.5,1.3,-0.6,0.4,-1.0,0.9,0.5,-0.5,1.1,0.7,-0.8,0.6,-0.4,1.0,0.5,-1.1,0.8,0.4,-0.6,1.2,0.5,-0.9,0.6,1.0,-0.4,0.7,-1.3,0.5,0.9,-0.5,
0.6,-0.8,1.0,0.5,-0.4,0.9,-1.1,0.6,0.5,-0.5,1.2,0.4,-0.7,0.8,0.6,-1.0,0.5,1.1,-0.4,0.6,-0.9,0.7,0.5,-0.6,1.0,0.4,-0.8,0.6,1.2,0.5];

// ---- layout ----
const L = 58, R = 650, TOP0 = 133, STEP = 193.2, H = 98.5;
const ORANGE = '#ff8000', BLUE = '#2a45ea';
const panels = [
 {name:'era20c-erai', title:'ERA20C_ERAI', start:p1Start, vals:p1Values, x0:1919.5, x1:2018.5, xMaj:20, xMajStart:1920, xMin:5, y0:-3, y1:2, yMaj:1, yMin:0.2, area:true},
 {name:'cera20c-erai', title:'CERA20C_ERAI', start:p2Start, vals:p2Values, x0:1919.5, x1:2018.5, xMaj:20, xMajStart:1920, xMin:5, y0:-4, y1:3, yMaj:1, yMin:0.2, area:true},
 {name:'erai', title:'ERAI', start:p3Start, vals:p3Values, x0:1978.5, x1:2018.5, xMaj:10, xMajStart:1980, xMin:2, y0:-3, y1:2, yMaj:1, yMin:0.2, area:true},
 {name:'merra2', title:'MERRA2', start:p4Start, vals:p4Values, x0:1979.5, x1:2018.5, xMaj:10, xMajStart:1980, xMin:2, y0:-3, y1:2, yMaj:1, yMin:0.2, area:true},
 {name:'cesm-bw1850', title:'CESM2.1 BW1850 CMIP6-piControl.001', start:p5Start, vals:p5Values, x0:50, x1:500, xMaj:100, xMajStart:100, xMin:20, y0:-4, y1:3, yMaj:1, yMin:0.2},
 {name:'cesm-control-250-699', title:'CESM2.1 Control 250-699', start:p6Start, vals:p6Values, x0:250, x1:700, xMaj:100, xMajStart:300, xMin:20, y0:-4, y1:3, yMaj:1, yMin:0.2},
 {name:'cesm-control-700-1149', title:'CESM2.1 Control 700-1149', start:p7Start, vals:p7Values, x0:700, x1:1150, xMaj:100, xMajStart:700, xMin:20, y0:-6, y1:4, yMaj:2, yMin:0.4},
 {name:'lens-400-849', title:'LENS 400-849', start:p8Start, vals:p8Values, x0:400, x1:850, xMaj:100, xMajStart:400, xMin:20, y0:-6, y1:4, yMaj:2, yMin:0.4},
 {name:'lens-850-1299', title:'LENS 850-1299', start:p9Start, vals:p9Values, x0:850, x1:1300, xMaj:100, xMajStart:900, xMin:20, y0:-4, y1:3, yMaj:1, yMin:0.2},
 {name:'lens-1300-1749', title:'LENS 1300-1749', start:p10Start, vals:p10Values, x0:1300, x1:1750, xMaj:100, xMajStart:1300, xMin:20, y0:-4, y1:3, yMaj:1, yMin:0.2},
 {name:'lens-1750-2199', title:'LENS 1750-2199', start:p11Start, vals:p11Values, x0:1750, x1:2200, xMaj:100, xMajStart:1800, xMin:20, y0:-6, y1:4, yMaj:2, yMin:0.4}
];

const svg = document.getElementById('chart');
const NS = 'http://www.w3.org/2000/svg';
function mk(tag, attrs, parent){
  const e = document.createElementNS(NS, tag);
  for (const k in attrs) e.setAttribute(k, attrs[k]);
  parent.appendChild(e);
  return e;
}

panels.forEach((p, i) => {
  const top = TOP0 + STEP * i, bot = top + H;
  const g = mk('g', {}, svg);
  
  
  const xs = v => L + (v - p.x0) / (p.x1 - p.x0) * (R - L);
  const ys = v => bot - (v - p.y0) / (p.y1 - p.y0) * H;
  const y0 = ys(0);

  const t = mk('text', {x: (L+R)/2, y: top - 18, 'font-size': 19, 'text-anchor': 'middle'}, g);
  
  
  t.textContent = p.title;

  const clipId = 'clip' + i;
  const cp = mk('clipPath', {id: clipId}, g);
  mk('rect', {x: L, y: top, width: R-L, height: H}, cp);
  const dg = mk('g', {'clip-path': 'url(#' + clipId + ')'}, g);
  
  

  if (p.area) {
    let pts = [];
    p.vals.forEach((v, k) => pts.push(xs(p.start + k).toFixed(2) + ',' + ys(v).toFixed(2)));
    const xa = xs(p.start), xb = xs(p.start + p.vals.length - 1);
    const poly = xa.toFixed(2) + ',' + y0 + ' ' + pts.join(' ') + ' ' + xb.toFixed(2) + ',' + y0;
    const cpa = mk('clipPath', {id: 'pos' + i}, g);
    mk('rect', {x: L, y: top, width: R-L, height: y0 - top}, cpa);
    const cpb = mk('clipPath', {id: 'neg' + i}, g);
    mk('rect', {x: L, y: y0, width: R-L, height: bot - y0}, cpb);
    const a1 = mk('polygon', {points: poly, fill: ORANGE, 'clip-path': 'url(#pos' + i + ')'}, dg);
    
    
    const a2 = mk('polygon', {points: poly, fill: BLUE, 'clip-path': 'url(#neg' + i + ')'}, dg);
    
    
  } else {
    const bw = (R - L) / (p.x1 - p.x0);
    p.vals.forEach((v, k) => {
      const cx = xs(p.start + k + 0.5);
      const yy = ys(v);
      const r = mk('rect', {x: (cx - bw/2).toFixed(2), y: Math.min(yy, y0).toFixed(2), width: bw.toFixed(2), height: Math.abs(yy - y0).toFixed(2), fill: v >= 0 ? ORANGE : BLUE}, dg);
      
      
    });
  }
  const zl = mk('line', {x1: L, x2: R, y1: y0, y2: y0, stroke: '#aaaaaa', 'stroke-width': 1}, g);
  
  

  const fr = mk('rect', {x: L, y: top, width: R-L, height: H, fill: 'none', stroke: '#000', 'stroke-width': 1.2}, g);
  
  

  // ticks
  const tg = mk('g', {stroke: '#000', 'stroke-width': 1}, g);
  
  
  const eps = 1e-6;
  for (let v = Math.ceil(p.x0 / p.xMin) * p.xMin; v <= p.x1 + eps; v += p.xMin) {
    const isMaj = Math.abs(((v - p.xMajStart) / p.xMaj) - Math.round((v - p.xMajStart) / p.xMaj)) < eps && v >= p.xMajStart - eps;
    const len = isMaj ? 11 : 5;
    const x = xs(v);
    mk('line', {x1: x, x2: x, y1: top, y2: top - len}, tg);
    mk('line', {x1: x, x2: x, y1: bot, y2: bot + len}, tg);
  }
  const nMin = Math.round((p.y1 - p.y0) / p.yMin);
  for (let k = 0; k <= nMin; k++) {
    const v = p.y0 + k * p.yMin;
    const isMaj = Math.abs(v / p.yMaj - Math.round(v / p.yMaj)) < 1e-6;
    const len = isMaj ? 11 : 5;
    const y = ys(v);
    mk('line', {x1: L, x2: L - len, y1: y, y2: y}, tg);
    mk('line', {x1: R, x2: R + len, y1: y, y2: y}, tg);
  }
  // labels
  for (let v = p.y0; v <= p.y1 + eps; v += p.yMaj) {
    const tl = mk('text', {x: 36, y: ys(v) + 5.5, 'font-size': 15.5, 'text-anchor': 'end'}, g);
    
    
    tl.textContent = v.toFixed(1);
  }
  for (let v = p.xMajStart; v <= p.x1 + eps; v += p.xMaj) {
    const tl = mk('text', {x: xs(v), y: bot + 35, 'font-size': 16, 'text-anchor': 'middle'}, g);
    
    
    tl.textContent = String(v);
  }
});
</script>
</body></html>
